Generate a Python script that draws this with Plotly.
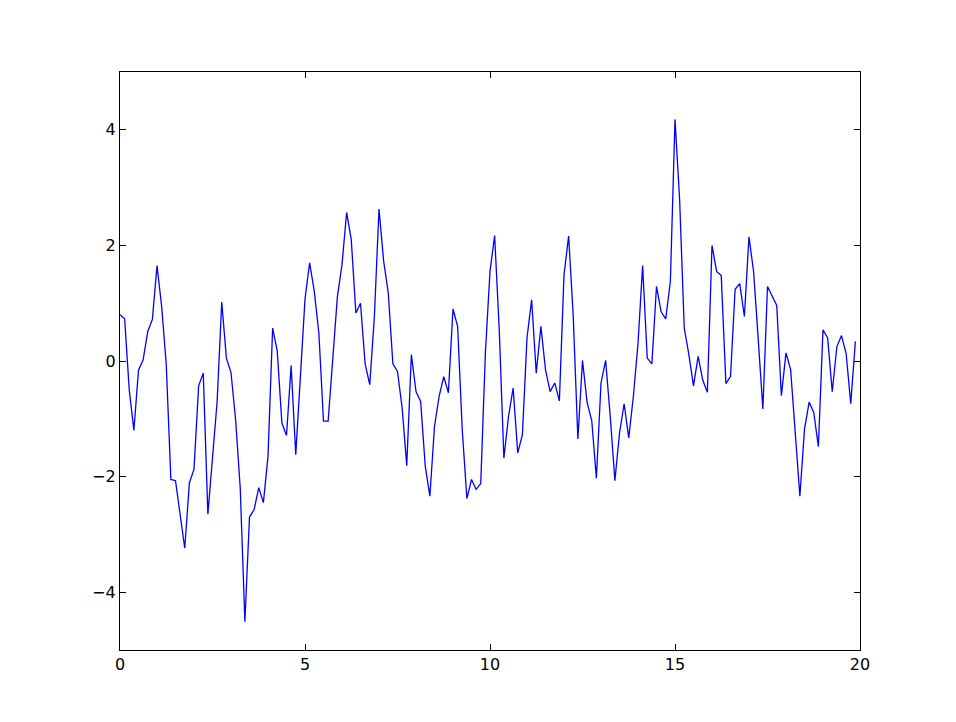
import numpy as np
import plotly.graph_objects as go

# x sampled every 0.125 from 0 to 19.875
x_start = 0.0
x_step = 0.125
values = [
    0.80, 0.73, -0.50, -1.20, -0.16, 0.02, 0.51, 0.72, 1.65, 0.95,
    -0.06, -2.05, -2.07, -2.66, -3.24, -2.11, -1.87, -0.43, -0.21, -2.65,
    -1.60, -0.70, 1.02, 0.05, -0.20, -1.02, -2.20, -4.51, -2.70, -2.57,
    -2.19, -2.45, -1.65, 0.57, 0.17, -1.07, -1.29, -0.08, -1.62, -0.30,
    1.07, 1.70, 1.21, 0.48, -1.04, -1.04, -0.03, 1.11, 1.67, 2.57,
    2.10, 0.83, 1.00, -0.05, -0.41, 0.77, 2.63, 1.73, 1.18, -0.05,
    -0.18, -0.81, -1.81, 0.11, -0.53, -0.70, -1.82, -2.34, -1.13, -0.61,
    -0.27, -0.55, 0.90, 0.60, -1.19, -2.38, -2.05, -2.22, -2.12, 0.14,
    1.55, 2.17, 0.54, -1.68, -0.96, -0.47, -1.59, -1.28, 0.40, 1.06,
    -0.21, 0.60, -0.15, -0.53, -0.38, -0.69, 1.49, 2.16, 0.77, -1.35,
    0.01, -0.72, -1.03, -2.03, -0.38, 0.01, -0.96, -2.07, -1.25, -0.74,
    -1.33, -0.61, 0.30, 1.65, 0.05, -0.05, 1.29, 0.85, 0.73, 1.38,
    4.18, 2.79, 0.57, 0.11, -0.43, 0.08, -0.33, -0.54, 2.00, 1.55,
    1.48, -0.39, -0.27, 1.24, 1.34, 0.77, 2.15, 1.54, 0.37, -0.83,
    1.29, 1.12, 0.96, -0.60, 0.14, -0.15, -1.19, -2.34, -1.18, -0.71,
    -0.89, -1.48, 0.54, 0.40, -0.53, 0.25, 0.44, 0.13, -0.74, 0.34,
]
x_values = [x_start + x_step * i for i in range(len(values))]

x_ticks = [0, 5, 10, 15, 20]
x_tick_labels = ["0", "5", "10", "15", "20"]
y_ticks = [-4, -2, 0, 2, 4]
y_tick_labels = ["\u22124", "\u22122", "0", "2", "4"]

fig = go.Figure()
fig.add_trace(go.Scatter(
    x=x_values, y=values, mode="lines",
    line=dict(color="#0000ff", width=1.3),
    showlegend=False, hoverinfo="skip",
))

axis_common = dict(
    showline=True, linecolor="black", linewidth=1.2, mirror="ticks",
    ticks="inside", ticklen=6, tickwidth=1, tickcolor="black",
    showgrid=False, zeroline=False,
    tickfont=dict(family="DejaVu Sans", size=16, color="black"),
)
fig.update_xaxes(range=[0, 20], tickvals=x_ticks, ticktext=x_tick_labels, **axis_common)
fig.update_yaxes(range=[-5, 5], tickvals=y_ticks, ticktext=y_tick_labels, **axis_common)

fig.update_layout(
    width=948, height=714,
    margin=dict(l=112, r=95.5, t=64.3, b=72),
    paper_bgcolor="white", plot_bgcolor="white",
)
fig.write_html("out.html")
